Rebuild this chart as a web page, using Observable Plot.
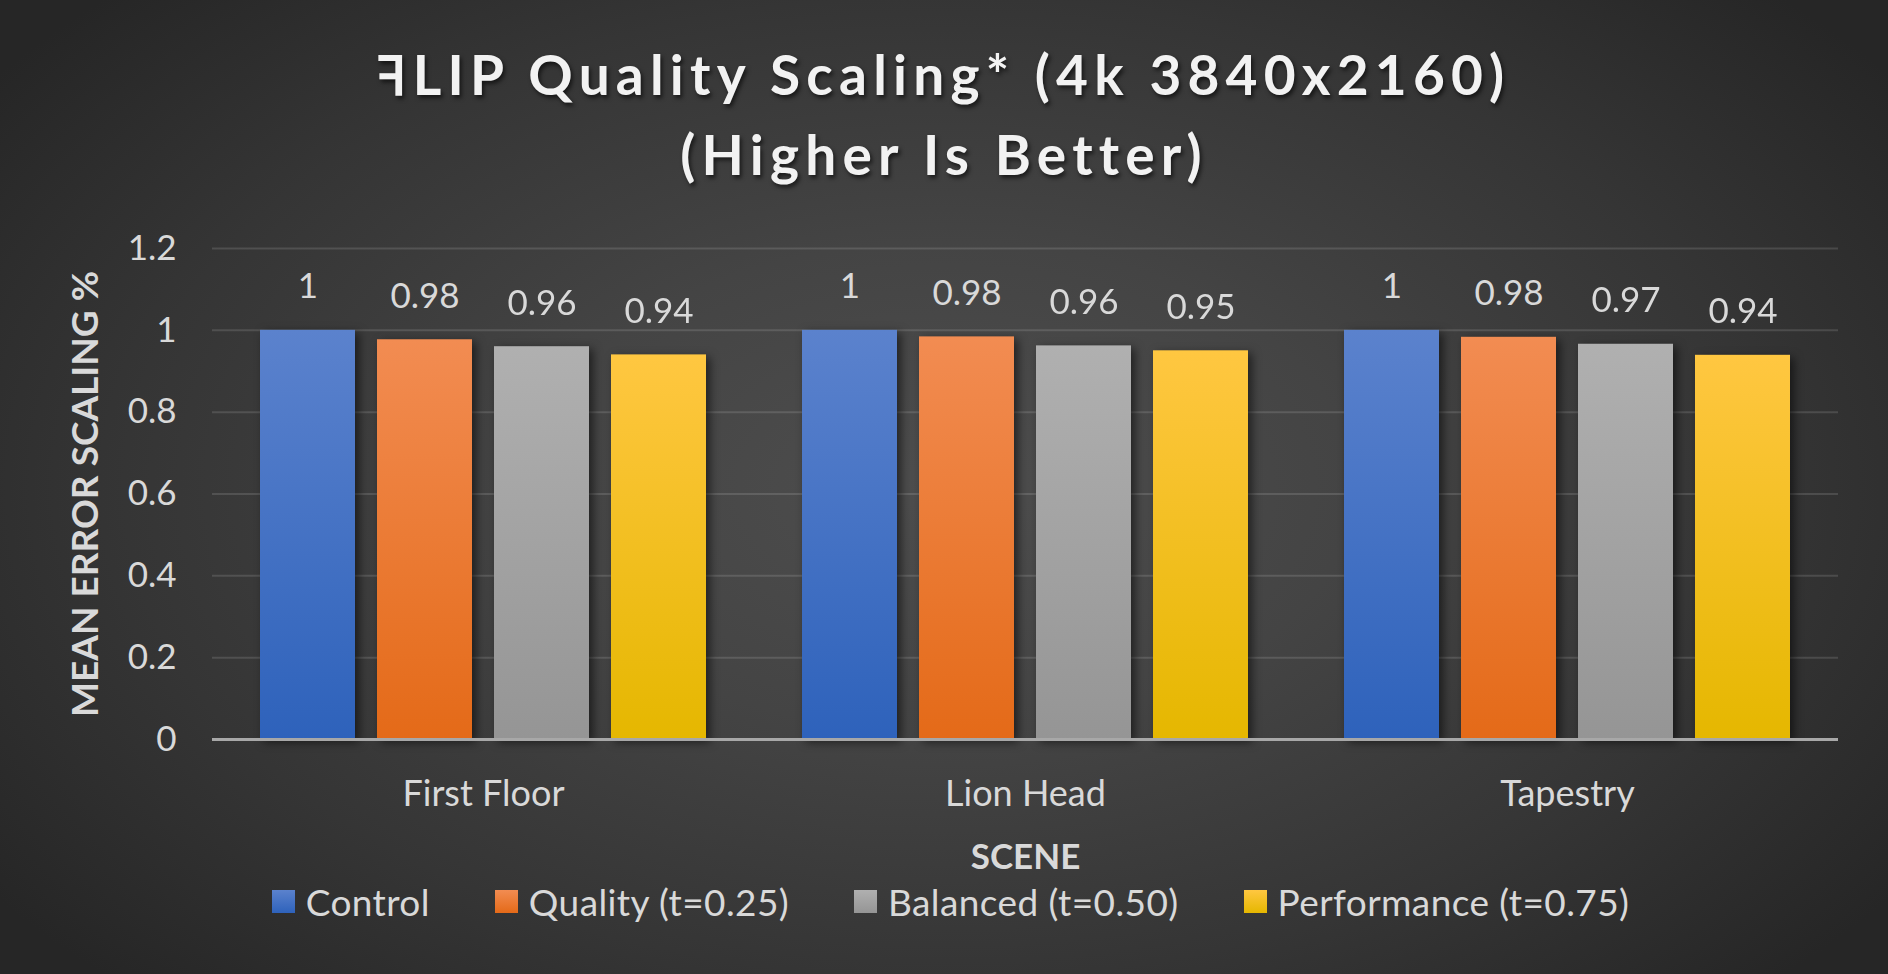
<!DOCTYPE html>
<html>
<head>
<meta charset="utf-8">
<script src="https://cdn.jsdelivr.net/npm/d3@7"></script>
<script src="https://cdn.jsdelivr.net/npm/@observablehq/plot@0.6"></script>
<style>
  html, body { margin: 0; padding: 0; }
  body {
    width: 1888px; height: 974px; overflow: hidden; position: relative;
    background: radial-gradient(ellipse 62% 72% at 50% 50%, #4e4e4e 0%, #444 35%, #353535 70%, #262626 100%);
    font-family: Lato, "Open Sans", sans-serif;
  }
  #title {
    position: absolute; left: 0; top: 34px; width: 1888px; text-align: center;
    font-family: Lato, sans-serif; font-weight: 700; font-size: 55px; line-height: 80px;
    letter-spacing: 6.2px; color: #f2f2f2;
    text-shadow: 2px 3px 4px rgba(0,0,0,0.6);
  }
  #chart { position: absolute; left: 0; top: 200px; }
  #legend {
    position: absolute; left: 0; top: 879px; width: 1901px;
    display: flex; justify-content: center; gap: 65px;
    font-family: Lato, sans-serif; font-size: 37px; letter-spacing: 0.4px; color: #d9d9d9;
  }
  #legend .item { display: flex; align-items: center; gap: 11px; }
  #legend .sw { width: 23px; height: 23px; }
  g[aria-label="bar"] { filter: drop-shadow(4px 3px 5px rgba(0,0,0,0.55)); }
  g[aria-label="y-axis label"] text { font-weight: 700; font-size: 37px; }
  g[aria-label="fx-axis label"] text { font-weight: 700; }
  g[aria-label="fx-axis tick label"] text { font-size: 36px; }
</style>
</head>
<body>
<div id="title">ꟻLIP Quality Scaling* (4k 3840x2160)<br>(Higher Is Better)</div>
<div id="chart"></div>
<div id="legend"></div>
<script>
// ---- data ----
const scenes = ["First Floor", "Lion Head", "Tapestry"];
const series = ["Control", "Quality (t=0.25)", "Balanced (t=0.50)", "Performance (t=0.75)"];
const firstFloor = [1, 0.977, 0.960, 0.940];
const lionHead   = [1, 0.984, 0.962, 0.950];
const tapestry   = [1, 0.983, 0.966, 0.939];
const yTicks = [0, 0.2, 0.4, 0.6, 0.8, 1, 1.2];
const topColors    = ["#5b82cd", "#f28c52", "#b0b0b0", "#ffc741"];
const bottomColors = ["#2e62bb", "#e46a18", "#959595", "#e5b700"];

const values = [firstFloor, lionHead, tapestry];
const data = scenes.flatMap((s, i) => series.map((k, j) => ({scene: s, series: k, value: values[i][j]})));
const fmt = d3.format(".2~f");

const chart = Plot.plot({
  width: 1888,
  height: 700,
  marginLeft: 212,
  marginRight: 50,
  marginTop: 48,
  marginBottom: 161,
  style: {background: "transparent", color: "#d9d9d9", fontFamily: "Lato, sans-serif", fontSize: "35px"},
  fx: {domain: scenes, padding: 0, label: null},
  x: {domain: series, paddingInner: 0.19, paddingOuter: 0.4, axis: null},
  y: {domain: [0, 1.2]},
  color: {domain: series, range: series.map((d, i) => `url(#grad${i})`)},
  marks: [
    Plot.gridY(yTicks, {stroke: "#ffffff", strokeOpacity: 0.13, strokeWidth: 2}),
    Plot.barY(data, {fx: "scene", x: "series", y: "value", fill: "series"}),
    Plot.ruleY([0], {stroke: "#a8a8a8", strokeWidth: 3}),
    Plot.text(data, {fx: "scene", x: "series", y: "value", text: d => fmt(d.value), dy: -32, lineAnchor: "bottom", fill: "#d9d9d9", fontSize: 35}),
    Plot.axisY(yTicks, {tickSize: 0, tickPadding: 36, tickFormat: d3.format("~g"), fontSize: 35,
      label: "MEAN ERROR SCALING %", labelArrow: "none", labelAnchor: "center", labelOffset: 141}),
    Plot.axisFx({anchor: "bottom", tickSize: 0, tickPadding: 41, fontSize: 35,
      label: "SCENE", labelArrow: "none", labelAnchor: "center", labelOffset: 129})
  ]
});

// gradients for bars
const defs = d3.select(chart).insert("defs", ":first-child");
series.forEach((s, i) => {
  const g = defs.append("linearGradient").attr("id", `grad${i}`).attr("x1", 0).attr("y1", 0).attr("x2", 0).attr("y2", 1);
  g.append("stop").attr("offset", "0%").attr("stop-color", topColors[i]);
  g.append("stop").attr("offset", "100%").attr("stop-color", bottomColors[i]);
});
document.getElementById("chart").appendChild(chart);

// legend
const legend = d3.select("#legend");
series.forEach((s, i) => {
  const it = legend.append("div").attr("class", "item");
  it.append("div").attr("class", "sw").style("background", `linear-gradient(${topColors[i]}, ${bottomColors[i]})`);
  it.append("span").text(s);
});
</script>
</body>
</html>
